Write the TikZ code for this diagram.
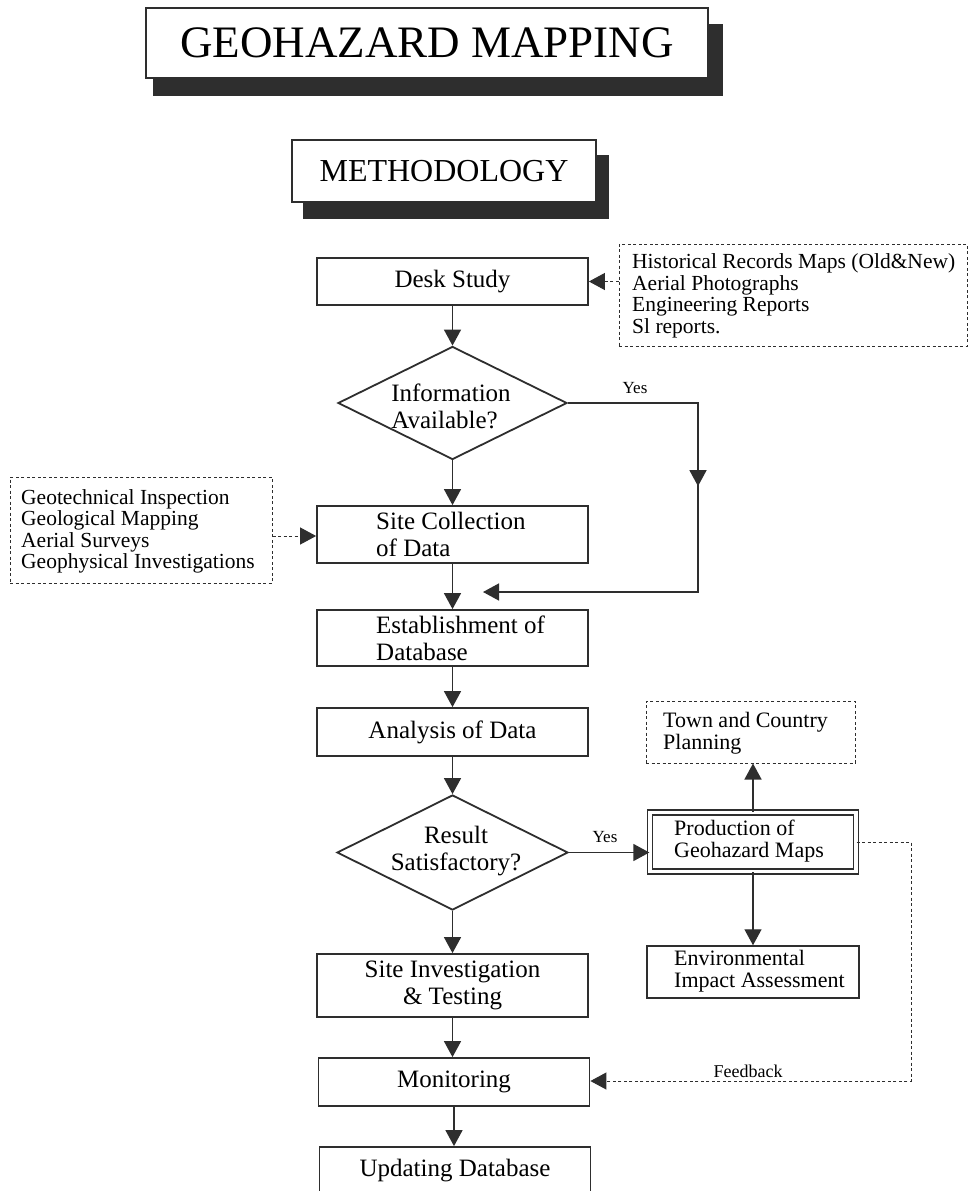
\documentclass[tikz,border=0pt]{standalone}
\usepackage{fontspec}
\setmainfont{Liberation Serif}
\usetikzlibrary{arrows.meta,shapes.geometric,calc,backgrounds}
\definecolor{inkc}{HTML}{2E2E2E}
\newcommand\fzmain{\fontsize{25}{27}\selectfont}
\newcommand\fzlist{\fontsize{21.5}{21.5}\selectfont}
\newcommand\fzside{\fontsize{22}{22}\selectfont}
\newcommand\fzlabel{\fontsize{17}{17}\selectfont}
\begin{document}
\begin{tikzpicture}[x=1pt,y=-1pt,
  mainbox/.style={draw=inkc, line width=1.8pt, minimum width=271pt, inner sep=0pt, font=\fzmain},
  sidebox/.style={draw=inkc, line width=1.5pt, inner sep=0pt},
  dbox/.style={draw=inkc, line width=1pt, dash pattern=on 3pt off 2.5pt, inner sep=0pt},
  decision/.style={draw=inkc, line width=1.8pt, diamond, inner sep=0pt},
  txt/.style={inner sep=0pt, align=left},
  conn/.style={draw=inkc, line width=1.4pt, -{Triangle[width=17pt,length=16pt]}},
  dconn/.style={draw=inkc, line width=1pt, dash pattern=on 3pt off 2.5pt, -{Triangle[width=17pt,length=16pt]}},
  shadowfill/.style={fill=inkc}]
\useasboundingbox (0,0) rectangle (970,1191);

% headings with block shadows
\node[draw=inkc, fill=white, line width=1.6pt, minimum width=562pt, minimum height=70pt, inner sep=0pt,
      font=\fontsize{45}{45}\selectfont] (title) at (427,43) {GEOHAZARD MAPPING};
\node[draw=inkc, fill=white, line width=1.6pt, minimum width=304pt, minimum height=62pt, inner sep=0pt,
      font=\fontsize{32}{32}\selectfont] (method) at (444,171) {METHODOLOGY};

% main column
\node[mainbox, minimum height=47pt] (desk) at (452.5,281.5) {Desk Study};
\node[decision, minimum width=229pt, minimum height=113pt] (info) at (452.5,403) {};
\node[txt, font=\fzmain] (infot) at (451,406) {Information\\Available?};
\node[mainbox, minimum height=57pt] (site) at (452.5,534.5) {};
\node[txt, font=\fzmain, anchor=west] (sitet) at (376,534.5) {Site Collection\\of Data};
\node[mainbox, minimum height=56pt] (estab) at (452.5,638) {};
\node[txt, font=\fzmain, anchor=west] (estabt) at (376,638) {Establishment of\\Database};
\node[mainbox, minimum height=48pt] (anal) at (452.5,732) {Analysis of Data};
\node[decision, minimum width=231pt, minimum height=115pt] (result) at (452.5,852.5) {};
\node[txt, align=center, font=\fzmain] (resultt) at (456,851) {Result\\Satisfactory?};
\node[mainbox, minimum height=63pt, align=center] (siteinv) at (452.5,985.5) {Site Investigation\\\& Testing};
\node[mainbox, minimum height=48pt] (monitor) at (454,1082) {Monitoring};
\node[mainbox, minimum height=48pt] (update) at (455,1171) {Updating Database};

% side lists
\node[dbox, minimum width=348pt, minimum height=102pt] (rdash) at (793,295) {};
\node[txt, font=\fzlist, anchor=west] (rdasht) at (632,296) {Historical Records Maps (Old\&New)\\Aerial Photographs\\Engineering Reports\\Sl reports.};
\node[dbox, minimum width=262pt, minimum height=106pt] (ldash) at (141,530) {};
\node[txt, font=\fzlist, anchor=west] (ldasht) at (21,531.5) {Geotechnical Inspection\\Geological Mapping\\Aerial Surveys\\Geophysical Investigations};

% outputs
\node[dbox, minimum width=209pt, minimum height=62pt] (town) at (750.5,732) {};
\node[txt, font=\fzside, anchor=west] (townt) at (663,733) {Town and Country\\Planning};
\node[draw=inkc, line width=1.3pt, double, double distance=3.5pt, minimum width=206pt, minimum height=59pt, inner sep=0pt] (prod) at (753,842) {};
\node[txt, font=\fzside, anchor=west] (prodt) at (674,841) {Production of\\Geohazard Maps};
\node[sidebox, minimum width=212pt, minimum height=52pt] (env) at (753,972) {};
\node[txt, font=\fzside, anchor=west] (envt) at (674,971.5) {Environmental\\Impact Assessment};

% labels
\node[font=\fzlabel, inner sep=0pt] (yes1) at (635,388) {Yes};
\node[font=\fzlabel, inner sep=0pt] (yes2) at (605,837) {Yes};
\node[font=\fontsize{18}{18}\selectfont, inner sep=0pt] (fb) at (748,1071) {Feedback};

% page background and heading shadows, behind everything
\begin{scope}[on background layer]
  \fill[white] (0,0) rectangle (970,1191);
  \fill[shadowfill] ($(title.south west)+(8,17)$) rectangle ($(title.north east)+(14,17)$);
  \fill[shadowfill] ($(method.south west)+(12,16)$) rectangle ($(method.north east)+(12,16)$);
\end{scope}

% bypass route coordinates
\coordinate (yc1) at (698,403);
\coordinate (yc2) at (698,592);
\coordinate (yend) at (483,592);
\coordinate (fb1) at (911,842);
\coordinate (fb2) at (911,1081);

% connectors
\draw[conn] (desk.south) -- (info.north);
\draw[dconn] (rdash.west |- desk.east) -- (desk.east);
\draw[conn] (info.south) -- (site.north);
\draw[dconn] (ldash.east |- 0,536) -- (site.west |- 0,536);
\draw[conn] (site.south) -- (estab.north);
\draw[conn] (info.east) -- (yc1) -- ($(yc1)!0.44!(yc2)$);
\draw[conn] ($(yc1)!0.4!(yc2)$) -- (yc2) -- (yend);
\draw[conn] (estab.south) -- (anal.north);
\draw[conn] (anal.south) -- (result.north);
\draw[conn] (result.east) -- (prod.west |- result.east);
\draw[conn] (prod.north) -- (prod.north |- town.south);
\draw[conn] (prod.south) -- (prod.south |- env.north);
\draw[conn] (result.south) -- (result.south |- siteinv.north);
\draw[conn] (siteinv.south) -- (siteinv.south |- monitor.north);
\draw[conn] (monitor.south) -- (monitor.south |- update.north);
\draw[dconn] (prod.east) -- (fb1) -- (fb2) -- (monitor.east |- fb2);
\end{tikzpicture}
\end{document}
